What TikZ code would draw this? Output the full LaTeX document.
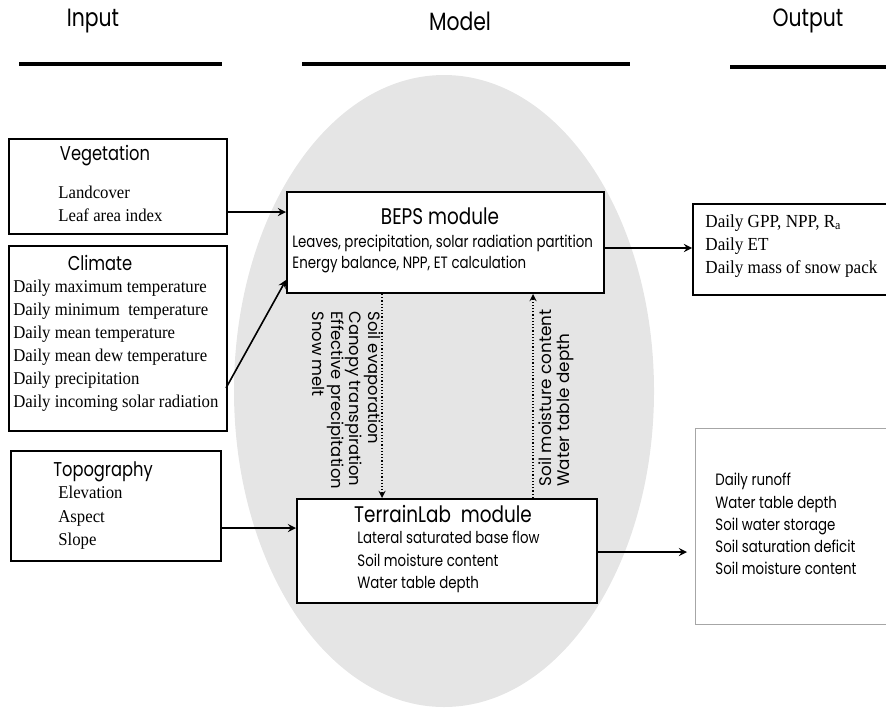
\documentclass[tikz,border=0pt]{standalone}
\usepackage{fontspec}
\setmainfont[FakeStretch=0.93]{Liberation Serif}
\newfontfamily\gothic[FakeStretch=0.815]{Poppins}
\newfontfamily\poppins{Poppins}
\usetikzlibrary{arrows,positioning}

\begin{document}
\begin{tikzpicture}[x=0.5pt,y=-0.5pt,>=stealth,
  every node/.style={inner sep=0pt},
  head/.style={font=\gothic\fontsize{12.5}{14}\selectfont},
  rule/.style={line width=2pt},
  inbox/.style={draw,line width=1pt,fill=white,anchor=north west},
  ttl/.style={font=\gothic\fontsize{10}{12}\selectfont},
  modttl/.style={font=\gothic\fontsize{11.3}{13}\selectfont},
  serif/.style={font=\fontsize{9}{11.5}\selectfont,align=left,anchor=west},
  sans/.style={font=\gothic\fontsize{8.2}{11.1}\selectfont,align=left,anchor=west},
  vlab/.style={font=\poppins\fontsize{8.2}{9.2}\selectfont,align=left,anchor=north west},
  link/.style={->,line width=.8pt},
  flux/.style={->,densely dotted,line width=.6pt}]
 \clip (0,0) rectangle (886,707);
 % headings
 \node[head] (inH) at (93,21) {Input};
 \node[head] (modH) at (460,21) {Model};
 \node[head] (outH) at (808,21) {Output};
 \draw[rule] (19,64) -- (222,64);
 \draw[rule] (302,64) -- (630,64);
 \draw[rule] (730,67) -- (886,67);
 % shaded model area
 \fill[black!10] (444,391) ellipse [x radius=105pt,y radius=158pt];
 % input boxes
 \node[inbox,minimum width=109pt,minimum height=47.5pt] (veg) at (8,138) {};
 \node[ttl] (vegT) at (105,156) {Vegetation};
 \node[serif] (vegL) at (58,204) {Landcover\\Leaf area index};
 \node[inbox,minimum width=109pt,minimum height=92.5pt] (clim) at (8,245) {};
 \node[ttl] (climT) at (100,263) {Climate};
 \node[serif] (climL) at (13,346) {Daily maximum temperature\\Daily minimum\ \ temperature\\
   Daily mean temperature\\Daily mean dew temperature\\Daily precipitation\\
   Daily incoming solar radiation};
 \node[inbox,minimum width=105pt,minimum height=55pt] (topo) at (10,450) {};
 \node[ttl] (topoT) at (103,472) {Topography};
 \node[serif,font=\fontsize{9}{11.75}\selectfont] (topoL) at (58,518) {Elevation\\Aspect\\Slope};
 % model boxes
 \node[inbox,minimum width=158.5pt,minimum height=50.5pt] (beps) at (286,191) {};
 \node[modttl] (bepsT) at (440,216) {BEPS module};
 \node[sans,font=\gothic\fontsize{8.2}{10.5}\selectfont] (bepsL) at (292,254)
   {Leaves, precipitation, solar radiation partition\\Energy balance, NPP, ET calculation};
 \node[inbox,minimum width=150pt,minimum height=52pt] (terr) at (296,498) {};
 \node[modttl] (terrT) at (443,514) {TerrainLab\ \ module};
 \node[sans] (terrL) at (357,562)
   {Lateral saturated base flow\\Soil moisture content\\Water table depth};
 % output boxes
 \node[inbox,minimum width=110pt,minimum height=45.5pt] (gpp) at (692,203) {};
 \node[serif,font=\fontsize{9.2}{11.5}\selectfont] (gppL) at (705,246) {Daily GPP, NPP, R\textsubscript{a}\\Daily ET\\Daily mass of snow pack};
 \node[inbox,draw=black!35,line width=.6pt,minimum width=110pt,minimum height=98pt] (hyd) at (695,428) {};
 \node[sans] (hydL) at (715,524) {Daily runoff\\Water table depth\\Soil water storage\\
   Soil saturation deficit\\Soil moisture content};
 % exchanged fluxes
 \node[vlab,rotate=-90] (downL) at (381,311)
   {Soil evaporation\\Canopy transpiration\\Effective precipitation\\Snow melt};
 \node[vlab,rotate=90,font=\poppins\fontsize{8.4}{9.2}\selectfont] (upL) at (538,487) {Soil moisture content\\Water table depth};
 % connectors
 \coordinate (vegOut) at (226,212);
 \coordinate (climOut) at (226,388);
 \coordinate (bepsIn) at (286,280);
 \coordinate (topoOut) at (220,528);
 \coordinate (bepsOut) at (603,248);
 \coordinate (terrOut) at (596,552);
 \coordinate (downX) at (382,0);
 \coordinate (upX) at (533,0);
 \draw[link] (vegOut) -- (vegOut -| beps.west);
 \draw[link] (climOut) -- (bepsIn);
 \draw[link] (topoOut) -- (topoOut -| terr.west);
 \draw[link] (bepsOut) -- (bepsOut -| gpp.west);
 \draw[link,shorten >=4pt] (terrOut) -- (terrOut -| hyd.west);
 \draw[flux] (beps.south -| downX) -- (terr.north -| downX);
 \draw[flux] (terr.north -| upX) -- (beps.south -| upX);
\end{tikzpicture}
\end{document}
